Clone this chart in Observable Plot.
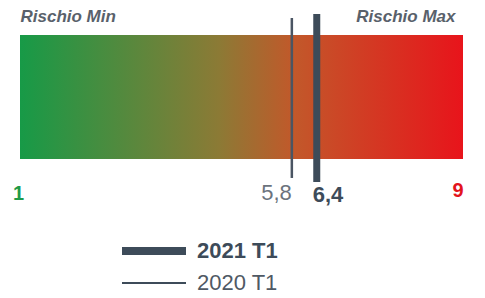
<!DOCTYPE html>
<html>
<head>
<meta charset="utf-8">
<script src="https://cdn.jsdelivr.net/npm/d3@7"></script>
<script src="https://cdn.jsdelivr.net/npm/@observablehq/plot@0.6"></script>
<style>
  html, body { margin: 0; padding: 0; background: #fff; }
  #wrap { position: relative; width: 485px; height: 298px; font-family: "Liberation Sans", Arial, sans-serif; }
  #wrap svg { position: absolute; left: 0; top: 0; }
  #legend { position: absolute; left: 122px; top: 235px; }
  .row { display: flex; align-items: center; height: 32px; }
  .sw { width: 64px; background: #3d4b59; margin-right: 11px; }
  .lab { font-size: 22px; line-height: 32px; }
</style>
</head>
<body>
<div id="wrap"><div id="legend"></div></div>
<script>
// --- data ---
const seriesNames = ["2021 T1", "2020 T1"];
const seriesValues = [6.35, 5.9];
const seriesLabels = ["6,4", "5,8"];
const scaleEnds = [1, 9];
const scaleEndLabels = ["1", "9"];
const endTitles = ["Rischio Min", "Rischio Max"];

const font = "Liberation Sans, Arial, sans-serif";
const current = {value: seriesValues[0], label: seriesLabels[0]};
const previous = {value: seriesValues[1], label: seriesLabels[1]};

const chart = Plot.plot({
  width: 485,
  height: 225,
  marginLeft: 20,
  marginRight: 22,
  marginTop: 0,
  marginBottom: 0,
  style: {fontFamily: font, background: "transparent"},
  x: {domain: scaleEnds, axis: null},
  y: {domain: [0, 1], range: [159, 35], axis: null},
  marks: [
    Plot.rect([{a: scaleEnds[0], b: scaleEnds[1]}], {x1: "a", x2: "b", y1: 0, y2: 1, fill: "url(#riskGrad)"}),
    Plot.ruleX([previous], {x: "value", y1: -0.153, y2: 1.137, stroke: "#4a5563", strokeWidth: 2.5}),
    Plot.ruleX([current], {x: "value", y1: -0.185, y2: 1.169, stroke: "#3d4b59", strokeWidth: 7}),
    Plot.text([previous], {x: "value", y: -0.33, text: "label", textAnchor: "end", lineAnchor: "bottom", dx: 0, fontSize: 22, fill: "#6b737d", fontFamily: font}),
    Plot.text([current], {x: "value", y: -0.345, text: "label", textAnchor: "start", lineAnchor: "bottom", dx: -4, fontSize: 22, fontWeight: "bold", fill: "#3d4b59", fontFamily: font}),
    Plot.text([scaleEnds[0]], {x: d => d, y: -0.33, text: [scaleEndLabels[0]], textAnchor: "middle", lineAnchor: "bottom", dx: -2, fontSize: 20, fontWeight: "bold", fill: "#1f9a48", fontFamily: font}),
    Plot.text([scaleEnds[1]], {x: d => d, y: -0.3, text: [scaleEndLabels[1]], textAnchor: "end", lineAnchor: "bottom", dx: 0, fontSize: 20, fontWeight: "bold", fill: "#e3141d", fontFamily: font}),
    Plot.text([scaleEnds[0]], {x: d => d, y: 1.105, text: [endTitles[0]], textAnchor: "start", lineAnchor: "bottom", fontSize: 17, fontWeight: "bold", fontStyle: "italic", fill: "#59616b", fontFamily: font}),
    Plot.text([scaleEnds[1]], {x: d => d, y: 1.105, text: [endTitles[1]], textAnchor: "end", lineAnchor: "bottom", dx: -8, fontSize: 17, fontWeight: "bold", fontStyle: "italic", fill: "#59616b", fontFamily: font})
  ]
});

// gradient definition
const svg = d3.select(chart);
const defs = svg.insert("defs", ":first-child");
const grad = defs.append("linearGradient").attr("id", "riskGrad").attr("x1", "0%").attr("x2", "100%").attr("y1", "0%").attr("y2", "0%");
[["0%", "#179a47"], ["45%", "#8c7a35"], ["62%", "#c2582a"], ["100%", "#e8141b"]].forEach(([o, c]) => grad.append("stop").attr("offset", o).attr("stop-color", c));

const wrap = document.getElementById("wrap");
wrap.insertBefore(chart, wrap.firstChild);

// legend
const legend = d3.select("#legend");
const widths = [8, 2];
seriesNames.forEach((name, i) => {
  const row = legend.append("div").attr("class", "row");
  row.append("div").attr("class", "sw").style("height", widths[i] + "px");
  row.append("span").attr("class", "lab").style("font-weight", i === 0 ? "bold" : "normal")
    .style("color", i === 0 ? "#3d4b59" : "#4f5964").text(name);
});
</script>
</body>
</html>
